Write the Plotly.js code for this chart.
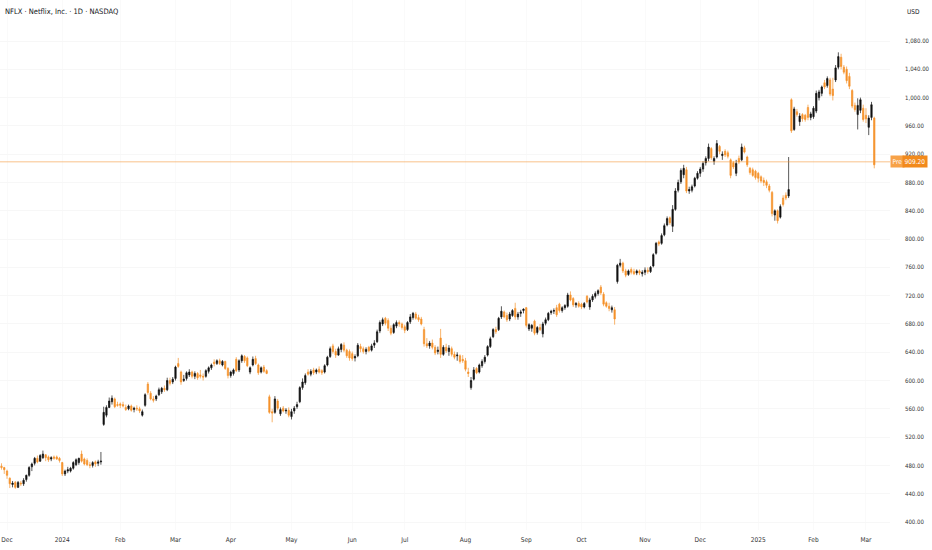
<!DOCTYPE html>
<html>
<head>
<meta charset="utf-8">
<script src="https://cdn.plot.ly/plotly-3.0.1.min.js"></script>
<style>
html,body{margin:0;padding:0;background:#fff;}
#chart{width:932px;height:550px;}
</style>
</head>
<body>
<div id="chart"></div>
<script>
// ---- Data: daily OHLC rows [open, high, low, close] ----
const nov2023 = [[479,483,474,477],[477,478,468,474]];
const dec2023 = [[472,474,461,466],[462,463,448,454],[453,458,449,455],[456,458,447,449],[449,458,448,456],
  [455,458,451,454],[454,462,451,459],[460,467,457,466],[466,479,464,477],[478,484,472,482],
  [483,492,480,490],[490,494,483,485],[486,496,485,494],[491,501,489,496],[495,496,486,491],
  [492,494,485,488],[489,493,486,491],[492,494,488,490],[492,494,488,489],[490,492,484,487]];
const jan2024 = [[484,485,465,468],[468,474,465,472],[472,478,469,474],[472,478,470,476],[476,486,474,484],
  [481,490,479,488],[484,491,481,490],[496,501,484,486],[489,491,480,482],[487,490,479,481],
  [481,485,476,480],[480,486,477,484],[485,487,478,482],[483,488,479,485],[485,499,481,486],
  [538,563,536,555],[551,565,548,562],[562,576,561,571],[570,579,566,575],[574,576,561,563],[566,570,563,565]];
const feb2024 = [[567,569,561,565],[566,570,562,564],[562,566,557,559],[560,566,558,564],[564,566,556,558],
  [559,563,555,561],[561,565,557,560],[560,563,554,557],[551,559,549,556],[565,582,563,580],
  [595,598,580,583],[582,585,572,574],[574,578,569,572],[574,580,571,578],[580,590,578,587],
  [584,591,581,589],[589,593,584,587],[587,604,585,600],[600,604,593,596],[598,605,595,602]];
const mar2024 = [[603,621,600,619],[624,632,618,620],[612,614,594,598],[600,608,598,602],[603,613,600,611],
  [608,616,605,612],[612,614,603,606],[606,613,602,610],[610,612,601,604],[608,615,603,606],
  [606,610,600,605],[606,616,604,614],[613,620,610,618],[618,624,615,622],[626,630,620,624],
  [624,630,622,628],[628,631,622,624],[622,629,620,627],[627,628,615,617],[617,619,603,607]];
const apr2024 = [[607,614,604,612],[610,617,607,615],[630,633,612,614],[615,630,612,628],[628,637,625,635],
  [634,636,625,628],[632,634,619,621],[612,620,609,618],[622,634,620,630],[631,635,622,624],
  [622,624,608,611],[612,620,610,618],[619,622,611,613],[614,616,609,610],[577,580,553,555],
  [556,560,541,554],[555,578,553,574],[571,574,558,561],[553,562,550,559],[561,564,555,557],
  [557,561,553,558],[558,562,548,551]];
const may2024 = [[549,560,545,556],[557,564,553,561],[563,570,560,566],[570,592,568,590],[590,603,587,598],
  [597,610,594,607],[612,616,607,609],[609,616,606,613],[615,618,608,611],[612,617,609,615],
  [616,620,610,612],[614,616,608,611],[612,623,610,621],[622,635,620,633],[634,648,632,645],
  [649,652,638,641],[641,645,632,636],[636,648,635,645],[644,653,640,651],[650,654,640,643],
  [643,645,632,635],[641,644,628,632]];
const jun2024 = [[638,641,628,631],[632,637,627,634],[635,653,633,650],[648,652,640,645],[645,648,638,641],
  [641,647,637,644],[647,649,640,642],[643,652,641,649],[650,657,646,653],[655,672,653,669],
  [670,685,667,682],[680,689,677,686],[688,690,678,681],[685,688,670,674],[674,678,664,667],
  [668,681,666,679],[677,685,674,682],[682,685,676,680],[680,682,672,675]];
const jul2024 = [[676,679,667,671],[672,684,670,682],[683,694,680,690],[689,697,686,695],[694,697,686,688],
  [689,693,683,686],[687,690,678,680],[672,676,648,652],[652,660,646,649],[649,656,645,653],
  [653,658,644,647],[647,650,636,639],[641,648,637,643],[660,673,632,637],[637,650,635,647],
  [647,652,639,642],[641,650,635,646],[645,648,634,637],[637,641,630,633],[635,640,628,636],
  [635,637,624,627],[630,636,625,628]];
const aug2024 = [[628,632,613,616],[612,618,605,610],[590,605,587,600],[602,619,600,615],[617,619,609,611],
  [612,624,610,622],[621,630,618,627],[627,636,624,633],[636,650,634,648],[648,662,646,659],
  [662,674,660,672],[672,676,666,669],[672,690,670,688],[690,705,687,698],[697,699,688,690],
  [692,696,683,686],[687,697,684,694],[692,701,690,699],[702,710,686,690],[690,697,686,694],
  [695,700,690,697],[699,702,695,701]];
const sep2024 = [[703,704,675,678],[673,681,670,679],[674,680,669,678],[684,686,664,667],[668,677,665,675],
  [675,680,670,672],[666,683,661,680],[681,689,678,686],[686,697,684,695],[696,700,693,698],
  [698,702,694,699],[703,707,690,693],[708,710,696,699],[699,705,696,703],[703,708,700,706],
  [705,724,703,721],[721,726,712,714],[716,718,704,707],[707,711,703,709],[709,712,703,705]];
const oct2024 = [[708,710,701,704],[704,711,702,709],[719,721,709,711],[704,717,700,714],[714,722,711,719],
  [719,726,716,723],[723,729,720,727],[732,735,721,724],[722,725,705,708],[710,712,703,705],
  [705,710,698,702],[700,706,696,703],[700,704,679,687],[740,765,737,763],[763,772,760,766],
  [766,768,752,755],[755,758,746,749],[750,757,748,755],[757,760,750,753],[754,758,749,751],
  [752,757,749,755],[755,757,749,752],[751,756,747,753]];
const nov2024 = [[753,760,749,756],[756,760,751,754],[754,762,752,760],[762,780,760,778],[780,796,778,794],
  [796,798,790,793],[794,808,792,805],[806,822,804,819],[820,832,818,829],[830,832,820,823],
  [818,848,810,842],[842,872,840,868],[869,884,866,880],[881,900,878,897],[891,905,886,900],
  [898,902,865,868],[868,874,864,870],[869,877,866,874],[875,888,873,886],[886,896,884,893]];
const dec2024 = [[893,902,888,899],[899,910,895,907],[908,917,904,914],[914,935,910,930],[928,930,912,915],
  [910,917,905,914],[916,940,914,935],[931,933,920,924],[918,924,912,920],[924,927,916,919],
  [922,925,914,917],[912,914,886,890],[908,910,899,902],[893,912,889,907],[914,918,906,909],
  [912,935,910,930],[929,932,921,923],[916,918,902,905],[900,902,891,894],[898,901,888,890],[896,898,884,887]];
const jan2025 = [[893,895,880,886],[888,890,879,882],[883,887,875,880],[881,884,872,876],[875,878,866,869],
  [866,868,832,836],[834,842,826,840],[840,842,822,826],[831,849,829,846],[858,862,846,849],
  [862,866,855,858],[861,916,858,870],[997,999,950,953],[955,987,953,984],[980,984,973,976],
  [966,978,960,974],[976,978,966,970],[975,977,966,969],[986,990,968,972],[972,980,968,977]];
const feb2025 = [[973,988,970,985],[981,1010,978,1006],[1000,1011,996,1008],[1006,1017,1002,1015],[1021,1025,1012,1015],
  [1017,1030,1014,1027],[1025,1028,1002,1005],[1012,1028,996,1003],[1025,1046,1022,1042],[1043,1064,1040,1058],
  [1057,1062,1040,1044],[1043,1046,1033,1036],[1040,1044,1020,1024],[1030,1035,1012,1016],[1010,1012,985,988],
  [989,993,980,983],[976,999,955,989],[982,1000,978,997],[985,990,966,969]];
const mar2025 = [[975,985,964,970],[958,975,947,971],[972,994,968,990],[971,973,900,905]];

const monthLabels = ['Dec','2024','Feb','Mar','Apr','May','Jun','Jul','Aug','Sep','Oct','Nov','Dec','2025','Feb','Mar'];
const monthTickDates = ['2023-12-01','2024-01-02','2024-02-01','2024-03-01','2024-04-01','2024-05-01','2024-06-03',
  '2024-07-01','2024-08-01','2024-09-03','2024-10-01','2024-11-01','2024-12-02','2025-01-02','2025-02-03','2025-03-03'];
const priceTicks = [400,440,480,520,560,600,640,680,720,760,800,840,880,920,960,1000,1040,1080];
const lastPrice = 909.20;
const holidays = ['2023-12-25','2024-01-01','2024-01-15','2024-02-19','2024-03-29','2024-05-27','2024-06-19',
  '2024-07-04','2024-09-02','2024-11-28','2024-12-25','2025-01-01','2025-01-09','2025-01-20','2025-02-17'];

// ---- trading-day calendar ----
function tradingDays(start, end){
  const out=[]; const d=new Date(start+'T00:00:00Z'); const e=new Date(end+'T00:00:00Z');
  while(d<=e){
    const wd=d.getUTCDay(); const s=d.toISOString().slice(0,10);
    if(wd!==0 && wd!==6 && holidays.indexOf(s)<0) out.push(s);
    d.setUTCDate(d.getUTCDate()+1);
  }
  return out;
}
const rows = [].concat(nov2023,dec2023,jan2024,feb2024,mar2024,apr2024,may2024,jun2024,jul2024,aug2024,
  sep2024,oct2024,nov2024,dec2024,jan2025,feb2025,mar2025);
const dates = tradingDays('2023-11-29','2025-03-06');
const n = Math.min(rows.length, dates.length);
const x = dates.slice(0,n);
const o = rows.slice(0,n).map(r=>r[0]), h = rows.slice(0,n).map(r=>r[1]),
      l = rows.slice(0,n).map(r=>r[2]), c = rows.slice(0,n).map(r=>r[3]);

const ORANGE = '#F5922B';
const FONT = 'Liberation Sans Narrow, Arial Narrow, DejaVu Sans Condensed, sans-serif';

const trace = {
  type:'candlestick', x:x, open:o, high:h, low:l, close:c,
  increasing:{line:{color:'#111111',width:0.7},fillcolor:'#111111'},
  decreasing:{line:{color:ORANGE,width:0.7},fillcolor:ORANGE},
  whiskerwidth:0, hoverinfo:'skip', showlegend:false
};

const fmt = v => v.toLocaleString('en-US',{minimumFractionDigits:2,maximumFractionDigits:2});

const layout = {
  width:932, height:550,
  margin:{l:0,r:42,t:0,b:20},
  paper_bgcolor:'#ffffff', plot_bgcolor:'#ffffff',
  boxgap:0.3,
  font:{family:FONT,size:7,color:'#333333'},
  xaxis:{type:'category', range:[-0.54,321.7], rangeslider:{visible:false},
    tickmode:'array', tickvals:monthTickDates, ticktext:monthLabels,
    showgrid:true, gridcolor:'#fafafa', gridwidth:1, zeroline:false, showline:false,
    ticks:'', ticklabelstandoff:4, tickfont:{family:FONT,size:6.5,color:'#333333'}, fixedrange:true},
  yaxis:{side:'right', range:[388.7,1138], tickmode:'array', tickvals:priceTicks,
    ticktext:priceTicks.map(fmt), showgrid:true, gridcolor:'#f7f7f7', gridwidth:1,
    zeroline:false, showline:false, ticks:'', ticklabelstandoff:14,
    tickfont:{family:FONT,size:6,color:'#333333'}, fixedrange:true},
  shapes:[{type:'line', xref:'paper', x0:0, x1:1, yref:'y', y0:lastPrice, y1:lastPrice,
    line:{color:'rgba(245,146,43,0.55)', width:1}}],
  annotations:[
    {xref:'paper', yref:'paper', x:0, y:1, xanchor:'left', yanchor:'top', xshift:3, yshift:-5,
     text:'NFLX · Netflix, Inc. · 1D · NASDAQ', showarrow:false, font:{family:FONT,size:7.5,color:'#131722'}},
    {xref:'paper', yref:'paper', x:1.017, y:1, xanchor:'left', yanchor:'top', yshift:-6,
     text:'USD', showarrow:false, font:{family:FONT,size:6.5,color:'#131722'}},
    {xref:'paper', yref:'y', x:1.0, y:lastPrice, xanchor:'left', yanchor:'middle', xshift:0,
     text:'Pre', showarrow:false, bgcolor:'#F7A248', borderpad:1.5, font:{family:FONT,size:6.5,color:'#ffffff'}},
    {xref:'paper', yref:'y', x:1.0135, y:lastPrice, xanchor:'left', yanchor:'middle',
     text:fmt(lastPrice), showarrow:false, bgcolor:'#F28A1C', borderpad:1.5, font:{family:FONT,size:6.5,color:'#ffffff'}}
  ]
};

Plotly.newPlot('chart',[trace],layout,{staticPlot:true,displayModeBar:false});
</script>
</body>
</html>
